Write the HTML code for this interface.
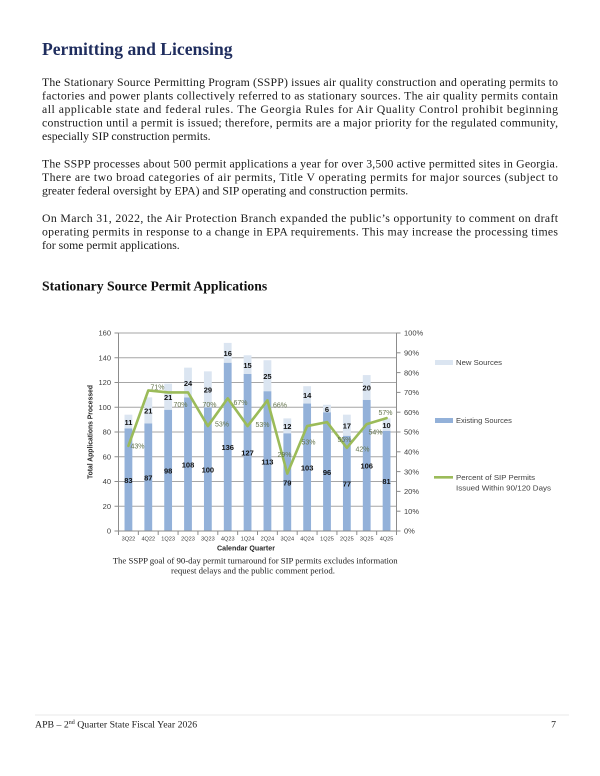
<!DOCTYPE html>
<html><head><meta charset="utf-8">
<style>html,body{margin:0;padding:0;background:#fff}svg{display:block}</style>
</head>
<body>
<svg width="600" height="776" viewBox="0 0 600 776" xmlns="http://www.w3.org/2000/svg">
<rect width="600" height="776" fill="#fff"/>

<text x="42" y="55" font-family="Liberation Serif, serif" font-weight="bold" font-size="17.6" fill="#1f2d5e">Permitting and Licensing</text>

<g font-family="Liberation Serif, serif" font-size="11.76" fill="#1a1a1a">
<text x="42" y="86" textLength="516" lengthAdjust="spacing">The Stationary Source Permitting Program (SSPP) issues air quality construction and operating permits to</text>
<text x="42" y="99.5" textLength="516" lengthAdjust="spacing">factories and power plants collectively referred to as stationary sources.  The air quality permits contain</text>
<text x="42" y="113" textLength="516" lengthAdjust="spacing">all applicable state and federal rules. The Georgia Rules for Air Quality Control prohibit beginning</text>
<text x="42" y="126.5" textLength="516" lengthAdjust="spacing">construction until a permit is issued; therefore, permits are a major priority for the regulated community,</text>
<text x="42" y="140">especially SIP construction permits.</text>

<text x="42" y="167.5" textLength="516" lengthAdjust="spacing">The SSPP processes about 500 permit applications a year for over 3,500 active permitted sites in Georgia.</text>
<text x="42" y="181" textLength="516" lengthAdjust="spacing">There are two broad categories of air permits, Title V operating permits for major sources (subject to</text>
<text x="42" y="194.5">greater federal oversight by EPA) and SIP operating and construction permits.</text>

<text x="42" y="222" textLength="516" lengthAdjust="spacing">On March 31, 2022, the Air Protection Branch expanded the public’s opportunity to comment on draft</text>
<text x="42" y="235.5" textLength="516" lengthAdjust="spacing">operating permits in response to a change in EPA requirements.  This may increase the processing times</text>
<text x="42" y="249">for some permit applications.</text>
</g>

<text x="42" y="290.5" font-family="Liberation Serif, serif" font-weight="bold" font-size="13.7" fill="#111">Stationary Source Permit Applications</text>

<!-- Chart -->
<g stroke="#a6a6a6" stroke-width="1">
<line x1="118.5" y1="506.25" x2="396.5" y2="506.25"/>
<line x1="118.5" y1="481.5" x2="396.5" y2="481.5"/>
<line x1="118.5" y1="456.75" x2="396.5" y2="456.75"/>
<line x1="118.5" y1="432" x2="396.5" y2="432"/>
<line x1="118.5" y1="407.25" x2="396.5" y2="407.25"/>
<line x1="118.5" y1="382.5" x2="396.5" y2="382.5"/>
<line x1="118.5" y1="357.75" x2="396.5" y2="357.75"/>
<line x1="118.5" y1="333" x2="396.5" y2="333"/>
</g>

<!-- bars: existing -->
<g fill="#93b1d9">
<rect x="124.53" y="428.29" width="7.8" height="102.71"/>
<rect x="144.39" y="423.34" width="7.8" height="107.66"/>
<rect x="164.24" y="409.72" width="7.8" height="121.28"/>
<rect x="184.10" y="397.35" width="7.8" height="133.65"/>
<rect x="203.96" y="407.25" width="7.8" height="123.75"/>
<rect x="223.82" y="362.70" width="7.8" height="168.30"/>
<rect x="243.67" y="373.84" width="7.8" height="157.16"/>
<rect x="263.53" y="391.16" width="7.8" height="139.84"/>
<rect x="283.39" y="433.24" width="7.8" height="97.76"/>
<rect x="303.24" y="403.54" width="7.8" height="127.46"/>
<rect x="323.10" y="412.20" width="7.8" height="118.80"/>
<rect x="342.96" y="435.71" width="7.8" height="95.29"/>
<rect x="362.82" y="399.82" width="7.8" height="131.18"/>
<rect x="382.67" y="430.76" width="7.8" height="100.24"/>
</g>
<!-- bars: new -->
<g fill="#dbe5f1">
<rect x="124.53" y="414.68" width="7.8" height="13.61"/>
<rect x="144.39" y="397.35" width="7.8" height="25.99"/>
<rect x="164.24" y="383.73" width="7.8" height="25.99"/>
<rect x="184.10" y="367.65" width="7.8" height="29.70"/>
<rect x="203.96" y="371.36" width="7.8" height="35.89"/>
<rect x="223.82" y="342.90" width="7.8" height="19.80"/>
<rect x="243.67" y="355.28" width="7.8" height="18.56"/>
<rect x="263.53" y="360.22" width="7.8" height="30.94"/>
<rect x="283.39" y="418.39" width="7.8" height="14.85"/>
<rect x="303.24" y="386.21" width="7.8" height="17.33"/>
<rect x="323.10" y="404.77" width="7.8" height="7.43"/>
<rect x="342.96" y="414.67" width="7.8" height="21.04"/>
<rect x="362.82" y="375.07" width="7.8" height="24.75"/>
<rect x="382.67" y="418.38" width="7.8" height="12.38"/>
</g>

<!-- axes -->
<g stroke="#8c8c8c" stroke-width="1">
<line x1="118.5" y1="333" x2="118.5" y2="531"/>
<line x1="396.5" y1="333" x2="396.5" y2="531"/>
<line x1="118.5" y1="531" x2="396.5" y2="531"/>
<line x1="114.5" y1="531" x2="118.5" y2="531"/>
<line x1="114.5" y1="506.25" x2="118.5" y2="506.25"/>
<line x1="114.5" y1="481.5" x2="118.5" y2="481.5"/>
<line x1="114.5" y1="456.75" x2="118.5" y2="456.75"/>
<line x1="114.5" y1="432" x2="118.5" y2="432"/>
<line x1="114.5" y1="407.25" x2="118.5" y2="407.25"/>
<line x1="114.5" y1="382.5" x2="118.5" y2="382.5"/>
<line x1="114.5" y1="357.75" x2="118.5" y2="357.75"/>
<line x1="114.5" y1="333" x2="118.5" y2="333"/>
<line x1="396.5" y1="333" x2="400.5" y2="333"/>
<line x1="396.5" y1="352.8" x2="400.5" y2="352.8"/>
<line x1="396.5" y1="372.6" x2="400.5" y2="372.6"/>
<line x1="396.5" y1="392.4" x2="400.5" y2="392.4"/>
<line x1="396.5" y1="412.2" x2="400.5" y2="412.2"/>
<line x1="396.5" y1="432" x2="400.5" y2="432"/>
<line x1="396.5" y1="451.8" x2="400.5" y2="451.8"/>
<line x1="396.5" y1="471.6" x2="400.5" y2="471.6"/>
<line x1="396.5" y1="491.4" x2="400.5" y2="491.4"/>
<line x1="396.5" y1="511.2" x2="400.5" y2="511.2"/>
<line x1="396.5" y1="531" x2="400.5" y2="531"/>
<line x1="138.36" y1="531" x2="138.36" y2="535"/>
<line x1="158.21" y1="531" x2="158.21" y2="535"/>
<line x1="178.07" y1="531" x2="178.07" y2="535"/>
<line x1="197.93" y1="531" x2="197.93" y2="535"/>
<line x1="217.79" y1="531" x2="217.79" y2="535"/>
<line x1="237.64" y1="531" x2="237.64" y2="535"/>
<line x1="257.5" y1="531" x2="257.5" y2="535"/>
<line x1="277.36" y1="531" x2="277.36" y2="535"/>
<line x1="297.21" y1="531" x2="297.21" y2="535"/>
<line x1="317.07" y1="531" x2="317.07" y2="535"/>
<line x1="336.93" y1="531" x2="336.93" y2="535"/>
<line x1="356.79" y1="531" x2="356.79" y2="535"/>
<line x1="376.64" y1="531" x2="376.64" y2="535"/>
<line x1="118.5" y1="531" x2="118.5" y2="535"/>
<line x1="396.5" y1="531" x2="396.5" y2="535"/>
</g>

<!-- percent line -->
<polyline fill="none" stroke="#9bbb59" stroke-width="2.6" stroke-linejoin="round" stroke-linecap="round"
points="128.43,445.86 148.29,390.42 168.14,392.4 188.0,392.4 207.86,426.06 227.72,398.34 247.57,426.06 267.43,400.32 287.29,473.58 307.14,426.06 327.0,422.1 346.86,447.84 366.72,424.08 386.57,418.14"/>

<!-- bar labels -->
<g font-family="Liberation Sans, Arial, sans-serif" font-weight="bold" font-size="7.5" fill="#111" text-anchor="middle">
<text x="128.43" y="424.8">11</text>
<text x="148.29" y="413.6">21</text>
<text x="168.14" y="400.0">21</text>
<text x="188.0" y="385.8">24</text>
<text x="207.86" y="392.6">29</text>
<text x="227.72" y="356.1">16</text>
<text x="247.57" y="367.9">15</text>
<text x="267.43" y="379.0">25</text>
<text x="287.29" y="429.1">12</text>
<text x="307.14" y="398.2">14</text>
<text x="327.0" y="411.8">6</text>
<text x="346.86" y="428.5">17</text>
<text x="366.72" y="390.7">20</text>
<text x="386.57" y="427.9">10</text>

<text x="128.43" y="482.9">83</text>
<text x="148.29" y="480.5">87</text>
<text x="168.14" y="473.7">98</text>
<text x="188.0" y="467.5">108</text>
<text x="207.86" y="472.4">100</text>
<text x="227.72" y="450.2">136</text>
<text x="247.57" y="455.7">127</text>
<text x="267.43" y="464.4">113</text>
<text x="287.29" y="485.4">79</text>
<text x="307.14" y="470.6">103</text>
<text x="327.0" y="474.9">96</text>
<text x="346.86" y="486.7">77</text>
<text x="366.72" y="468.7">106</text>
<text x="386.57" y="484.2">81</text>
</g>

<!-- percent labels -->
<g font-family="Liberation Sans, Arial, sans-serif" font-size="7" fill="#62724b" text-anchor="middle">
<text x="137.5" y="448.7">43%</text>
<text x="157.5" y="389.4">71%</text>
<text x="180.5" y="407">70%</text>
<text x="209.5" y="407">70%</text>
<text x="222" y="426.7">53%</text>
<text x="240.5" y="405.2">67%</text>
<text x="262.5" y="427.2">53%</text>
<text x="280" y="407.7">66%</text>
<text x="284.5" y="457">29%</text>
<text x="308.5" y="444.7">53%</text>
<text x="344.5" y="442">55%</text>
<text x="362.5" y="451.7">42%</text>
<text x="375.5" y="434.7">54%</text>
<text x="385.5" y="415">57%</text>
</g>

<!-- left axis labels -->
<g font-family="Liberation Sans, Arial, sans-serif" font-size="7.5" fill="#404040" text-anchor="end">
<text x="111" y="533.7">0</text>
<text x="111" y="508.9">20</text>
<text x="111" y="484.2">40</text>
<text x="111" y="459.4">60</text>
<text x="111" y="434.7">80</text>
<text x="111" y="409.9">100</text>
<text x="111" y="385.2">120</text>
<text x="111" y="360.4">140</text>
<text x="111" y="335.7">160</text>
</g>
<!-- right axis labels -->
<g font-family="Liberation Sans, Arial, sans-serif" font-size="7.5" fill="#404040">
<text x="404" y="533.7">0%</text>
<text x="404" y="513.9">10%</text>
<text x="404" y="494.1">20%</text>
<text x="404" y="474.3">30%</text>
<text x="404" y="454.5">40%</text>
<text x="404" y="434.7">50%</text>
<text x="404" y="414.9">60%</text>
<text x="404" y="395.1">70%</text>
<text x="404" y="375.3">80%</text>
<text x="404" y="355.5">90%</text>
<text x="404" y="335.7">100%</text>
</g>

<!-- category labels -->
<g font-family="Liberation Sans, Arial, sans-serif" font-size="5.6" fill="#404040" text-anchor="middle">
<text x="128.43" y="540.3">3Q22</text>
<text x="148.29" y="540.3">4Q22</text>
<text x="168.14" y="540.3">1Q23</text>
<text x="188.0" y="540.3">2Q23</text>
<text x="207.86" y="540.3">3Q23</text>
<text x="227.72" y="540.3">4Q23</text>
<text x="247.57" y="540.3">1Q24</text>
<text x="267.43" y="540.3">2Q24</text>
<text x="287.29" y="540.3">3Q24</text>
<text x="307.14" y="540.3">4Q24</text>
<text x="327.0" y="540.3">1Q25</text>
<text x="346.86" y="540.3">2Q25</text>
<text x="366.72" y="540.3">3Q25</text>
<text x="386.57" y="540.3">4Q25</text>
</g>

<text x="217" y="550.5" font-family="Liberation Sans, Arial, sans-serif" font-weight="bold" font-size="7" fill="#262626" textLength="58" lengthAdjust="spacingAndGlyphs">Calendar Quarter</text>
<text transform="translate(92.5,479) rotate(-90)" x="0" y="0" font-family="Liberation Sans, Arial, sans-serif" font-weight="bold" font-size="7" fill="#262626" textLength="94" lengthAdjust="spacingAndGlyphs">Total Applications Processed</text>

<!-- legend -->
<rect x="435" y="360" width="18" height="5" fill="#dbe5f1"/>
<rect x="435" y="418" width="18" height="5" fill="#93b1d9"/>
<line x1="434" y1="477.3" x2="453" y2="477.3" stroke="#9bbb59" stroke-width="2.6"/>
<g font-family="Liberation Sans, Arial, sans-serif" font-size="7.5" fill="#404040">
<text x="456" y="365" textLength="46" lengthAdjust="spacingAndGlyphs">New Sources</text>
<text x="456" y="423">Existing Sources</text>
<text x="456" y="480" textLength="79" lengthAdjust="spacingAndGlyphs">Percent of SIP Permits</text>
<text x="456" y="490.5" textLength="95" lengthAdjust="spacingAndGlyphs">Issued Within 90/120 Days</text>
</g>

<!-- caption -->
<g font-family="Liberation Serif, serif" font-size="8.8" fill="#222">
<text x="112.7" y="563.5" textLength="285" lengthAdjust="spacing">The SSPP goal of 90-day permit turnaround for SIP permits excludes information</text>
<text x="253" y="573.5" text-anchor="middle">request delays and the public comment period.</text>
</g>

<!-- footer -->
<line x1="35" y1="715" x2="569" y2="715" stroke="#e8e8e8" stroke-width="1"/>
<text x="35" y="727.5" font-family="Liberation Serif, serif" font-size="9.8" fill="#222">APB – 2<tspan font-size="6" dy="-3.5">nd</tspan><tspan dy="3.5"> Quarter State Fiscal Year 2026</tspan></text>
<text x="556" y="727.5" font-family="Liberation Serif, serif" font-size="9.8" fill="#222" text-anchor="end">7</text>
</svg>
</body></html>
